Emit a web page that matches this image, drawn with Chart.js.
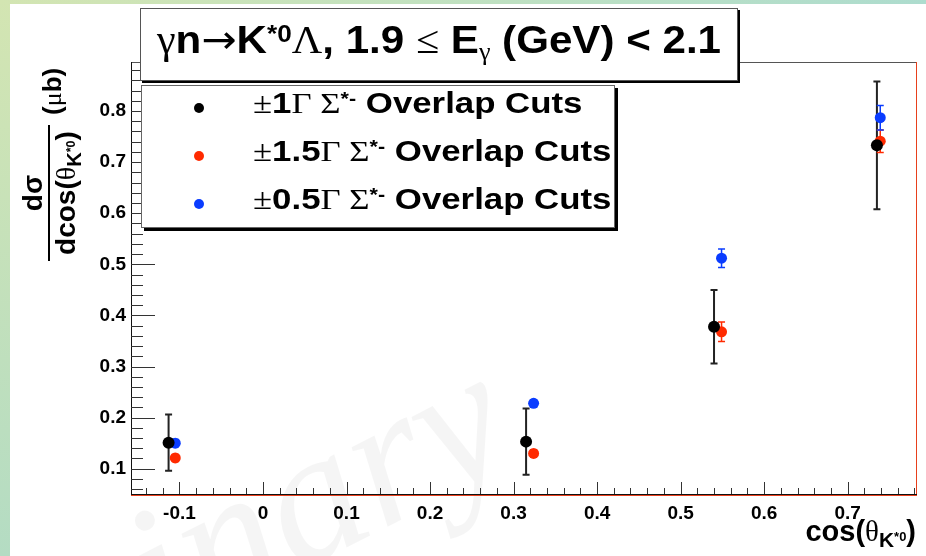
<!DOCTYPE html>
<html>
<head>
<meta charset="utf-8">
<script src="https://cdn.jsdelivr.net/npm/chart.js@4.4.0/dist/chart.umd.min.js"></script>
<style>
  body { margin: 0; background: #fff; }
  #wrap { position: relative; width: 926px; height: 556px; overflow: hidden; background: #fff; }
  #leftbar { position: absolute; left: 0; top: 0; width: 10px; height: 556px; background: linear-gradient(#d3e5b2, #b4dcc3); }
  #topbar { position: absolute; left: 0; top: 0; width: 926px; height: 4px; background: linear-gradient(90deg, #d3e5b2, #addcce); }
  #chart { position: absolute; left: 0; top: 0; }
  .sans { font-family: "Liberation Sans", Arial, sans-serif; font-weight: bold; color: #000; }
  .sym { font-family: "Liberation Serif", "DejaVu Serif", serif; font-weight: normal; }
  .arrow { font-family: "DejaVu Sans", sans-serif; font-weight: normal; }
  .sup { position: relative; top: -0.45em; font-size: 62%; vertical-align: baseline; }
  .sub { position: relative; top: 0.3em; font-size: 62%; vertical-align: baseline; }
  .subk { position: relative; top: 0.3em; font-size: 72%; vertical-align: baseline; }
  #title { position: absolute; left: 140px; top: 8px; width: 596px; height: 71px; border: 1px solid #555;
           background: #fff; box-shadow: 2px 2px 0 #000; }
  #title .txt { position: absolute; left: 0; width: 100%; top: 11px; text-align: center; font-size: 39px; line-height: 40px;
                white-space: nowrap; transform: scaleX(1.08); }
  #legend { position: absolute; left: 141px; top: 85px; width: 472px; height: 141px; border: 1px solid #666;
            background: #fff; box-shadow: 3px 3px 0 #000; }
  .row { position: absolute; left: 111px; font-size: 29px; line-height: 30px; white-space: nowrap;
         transform: scaleX(1.2); transform-origin: 0 0; }
  .dot { position: absolute; width: 10px; height: 10px; border-radius: 50%; left: 52px; }
  #ytitle { position: absolute; width: 200px; height: 70px; left: -48px; top: 126px; transform: rotate(-90deg);
            display: flex; align-items: center; font-size: 28px; }
  .frac { display: flex; flex-direction: column; align-items: center; width: 136px; }
  .num { height: 31px; line-height: 31px; }
  .bar { width: 136px; height: 2px; background: #000; }
  .den { height: 37px; line-height: 32px; white-space: nowrap; }
  #xtitle { position: absolute; right: 10px; top: 518px; font-size: 29px; line-height: 26px; white-space: nowrap; }
</style>
</head>
<body>
<div id="wrap">
  <div id="leftbar"></div>
  <div id="topbar"></div>
  <canvas id="chart" width="926" height="556"></canvas>
  <div id="title" class="sans"><div class="txt"><span class="sym">γ</span>n<span class="arrow">→</span>K<span class="sup">*0</span><span class="sym">Λ</span>, 1.9 <span class="sym">≤</span> E<span class="sub sym">γ</span> (GeV) &lt; 2.1</div></div>
  <div id="legend" class="sans"></div>
  <div id="ytitle" class="sans">
    <div class="frac">
      <div class="num">dσ</div>
      <div class="bar"></div>
      <div class="den">dcos(<span class="sym">θ</span><span class="subk">K<span class="sup">*0</span></span>)</div>
    </div>
    <div style="margin-left:10px; font-size:26px">(<span class="sym">μ</span>b)</div>
  </div>
  <div id="xtitle" class="sans">cos(<span class="sym">θ</span><span class="subk">K<span class="sup">*0</span></span>)</div>
</div>
<script>
// ---- data ----
const seriesNames = ['±1Γ Σ*⁻ Overlap Cuts', '±1.5Γ Σ*⁻ Overlap Cuts', '±0.5Γ Σ*⁻ Overlap Cuts'];
const cutWidth = ['1', '1.5', '0.5'];
const colors = ['#000000', '#ff2a00', '#0a3cff'];
const errColors = ['#222222', '#ff2a00', '#0a3cff'];

const cosTheta1 = [-0.113, 0.315, 0.540, 0.735];
const xsec1 = [0.151, 0.153, 0.378, 0.733];
const err1 = [0.055, 0.065, 0.072, 0.125];

const cosTheta15 = [-0.105, 0.324, 0.549, 0.739];
const xsec15 = [0.121, 0.130, 0.368, 0.741];
const err15 = [0.007, 0.007, 0.019, 0.022];

const cosTheta05 = [-0.105, 0.324, 0.549, 0.739];
const xsec05 = [0.150, 0.228, 0.512, 0.787];
const err05 = [0.007, 0.007, 0.018, 0.024];

const xTicks = [-0.1, 0, 0.1, 0.2, 0.3, 0.4, 0.5, 0.6, 0.7];
const xTickLabels = ['-0.1', '0', '0.1', '0.2', '0.3', '0.4', '0.5', '0.6', '0.7'];
const yTicks = [0.1, 0.2, 0.3, 0.4, 0.5, 0.6, 0.7, 0.8];
const yTickLabels = ['0.1', '0.2', '0.3', '0.4', '0.5', '0.6', '0.7', '0.8'];
const xMin = -0.158, xMax = 0.783;
const yMin = 0.0505, yMax = 0.896;
const minorStep = 0.02;

function points(xs, ys) {
    return xs.map((x, i) => ({ x: x, y: ys[i] }));
}

const errs = [err1, err15, err05];

// legend rows (html, so the super/subscripts stay as text)
const legend = document.getElementById('legend');
cutWidth.forEach((w, i) => {
    const dot = document.createElement('div');
    dot.className = 'dot';
    dot.style.background = colors[i];
    dot.style.top = (17 + i * 48) + 'px';
    legend.appendChild(dot);
    const row = document.createElement('div');
    row.className = 'row';
    row.style.top = (2 + i * 48) + 'px';
    row.title = seriesNames[i];
    row.innerHTML = '<span class="sym">±</span>' + w + '<span class="sym">Γ Σ</span><span class="sup">*-</span> Overlap Cuts';
    legend.appendChild(row);
});

// faint watermark behind everything
const watermark = {
    id: 'watermark',
    beforeDraw(chart) {
        const ctx = chart.ctx;
        ctx.save();
        ctx.translate(-290, 872);
        ctx.rotate(-27 * Math.PI / 180);
        ctx.font = 'italic 190px "Liberation Serif", serif';
        ctx.fillStyle = 'rgba(0,0,0,0.04)';
        ctx.fillText('Preliminary', 0, 0);
        ctx.restore();
    }
};

// ROOT style frame with ticks pointing inwards
const frame = {
    id: 'frame',
    beforeDatasetsDraw(chart) {
        const { ctx, chartArea: a, scales: { x, y } } = chart;
        ctx.save();
        ctx.lineWidth = 1;
        ctx.strokeStyle = '#555';
        ctx.beginPath();
        ctx.moveTo(a.left, a.top + 0.5);
        ctx.lineTo(a.right, a.top + 0.5);
        ctx.stroke();
        ctx.strokeStyle = '#e8401c';
        ctx.beginPath();
        ctx.moveTo(a.right - 0.5, a.top);
        ctx.lineTo(a.right - 0.5, a.bottom + 2);
        ctx.moveTo(a.left, a.bottom + 1.5);
        ctx.lineTo(a.right, a.bottom + 1.5);
        ctx.stroke();

        ctx.strokeStyle = '#111';
        ctx.beginPath();
        ctx.moveTo(a.left + 0.5, a.top);
        ctx.lineTo(a.left + 0.5, a.bottom + 1);
        ctx.moveTo(a.left, a.bottom + 0.5);
        ctx.lineTo(a.right, a.bottom + 0.5);
        ctx.stroke();

        ctx.strokeStyle = '#333';
        ctx.beginPath();
        for (let k = Math.ceil(yMin / minorStep); k * minorStep <= yMax; k++) {
            const py = Math.round(y.getPixelForValue(k * minorStep)) + 0.5;
            const len = k % 5 === 0 ? 24 : 12;
            ctx.moveTo(a.left, py);
            ctx.lineTo(a.left + len, py);
        }
        for (let k = Math.ceil(xMin / minorStep); k * minorStep <= xMax; k++) {
            const px = Math.round(x.getPixelForValue(k * minorStep)) + 0.5;
            const len = k % 5 === 0 ? 12 : 6;
            ctx.moveTo(px, a.bottom);
            ctx.lineTo(px, a.bottom - len);
        }
        ctx.stroke();
        ctx.restore();
    }
};

// vertical error bars with small caps
const errorBars = {
    id: 'errorBars',
    beforeDatasetsDraw(chart) {
        const { ctx, scales: { x, y } } = chart;
        ctx.save();
        chart.data.datasets.forEach((ds, d) => {
            ctx.strokeStyle = errColors[d];
            ctx.lineWidth = d === 0 ? 2 : 1.5;
            ds.data.forEach((p, i) => {
                const e = errs[d][i];
                const px = x.getPixelForValue(p.x);
                const top = y.getPixelForValue(p.y + e);
                const bot = y.getPixelForValue(p.y - e);
                ctx.beginPath();
                ctx.moveTo(px, top);
                ctx.lineTo(px, bot);
                ctx.moveTo(px - 3.5, top);
                ctx.lineTo(px + 3.5, top);
                ctx.moveTo(px - 3.5, bot);
                ctx.lineTo(px + 3.5, bot);
                ctx.stroke();
            });
        });
        ctx.restore();
    }
};

const tickFont = { family: '"Liberation Sans", Arial, sans-serif', weight: 'bold', size: 19 };

new Chart(document.getElementById('chart').getContext('2d'), {
    type: 'scatter',
    data: {
        datasets: [
            { label: seriesNames[0], data: points(cosTheta1, xsec1), backgroundColor: colors[0], pointRadius: 6, pointBorderWidth: 0 },
            { label: seriesNames[1], data: points(cosTheta15, xsec15), backgroundColor: colors[1], pointRadius: 5.5, pointBorderWidth: 0 },
            { label: seriesNames[2], data: points(cosTheta05, xsec05), backgroundColor: colors[2], pointRadius: 5.5, pointBorderWidth: 0 }
        ]
    },
    options: {
        responsive: false,
        animation: false,
        layout: { padding: { left: 0, right: 9, top: 62, bottom: 0 } },
        plugins: { legend: { display: false }, tooltip: { enabled: false } },
        scales: {
            x: {
                type: 'linear', min: xMin, max: xMax,
                grid: { display: false, drawTicks: false },
                border: { display: false },
                afterBuildTicks: s => { s.ticks = xTicks.map(v => ({ value: v })); },
                afterFit: s => { s.height = 62; },
                ticks: { font: tickFont, color: '#000', padding: 8, maxRotation: 0, autoSkip: false,
                         callback: (v, i) => xTickLabels[i] }
            },
            y: {
                type: 'linear', min: yMin, max: yMax,
                grid: { display: false, drawTicks: false },
                border: { display: false },
                afterBuildTicks: s => { s.ticks = yTicks.map(v => ({ value: v })); },
                afterFit: s => { s.width = 131; },
                ticks: { font: tickFont, color: '#000', padding: 5, autoSkip: false,
                         callback: (v, i) => yTickLabels[i] }
            }
        }
    },
    plugins: [watermark, frame, errorBars]
});
</script>
</body>
</html>
